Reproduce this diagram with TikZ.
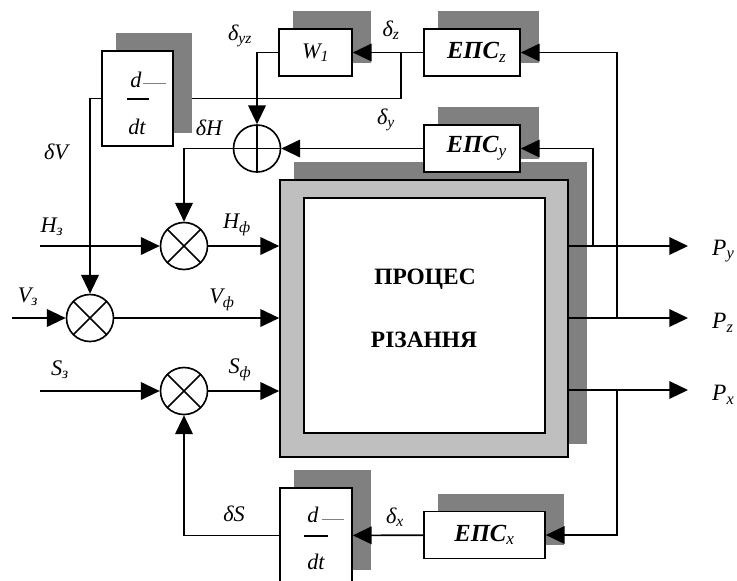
\documentclass[tikz,border=0pt]{standalone}
\usepackage{fontspec}
\setmainfont{Liberation Serif}
\usepackage{tikz}
\usetikzlibrary{arrows.meta, backgrounds}

\begin{document}
\begin{tikzpicture}[x=0.03cm, y=-0.03cm,
  lw/.style={line width=1.4pt},
  blk/.style={draw, lw, fill=white, inner sep=0pt, minimum height=1.41cm},
  mult/.style={circle, draw, lw, fill=white, minimum size=1.41cm, inner sep=0pt,
    path picture={\draw[lw] (path picture bounding box.north west) -- (path picture bounding box.south east)
      (path picture bounding box.north east) -- (path picture bounding box.south west);}},
  summ/.style={circle, draw, lw, fill=white, minimum size=1.41cm, inner sep=0pt,
    path picture={\draw[lw] (path picture bounding box.north) -- (path picture bounding box.south)
      (path picture bounding box.west) -- (path picture bounding box.east);}},
  shd/.style={fill=black!50},
  arr/.style={lw, -{Triangle[length=16pt, width=15pt]}},
  lbl/.style={font=\fontsize{19}{21}\selectfont\itshape, inner sep=0pt},
  frac/.style={font=\fontsize{19}{22}\selectfont\itshape, inner sep=0pt},
  eps/.style={blk, minimum width=2.88cm, font=\fontsize{21}{24}\selectfont\bfseries\itshape},
]
\useasboundingbox (0,0) rectangle (737,580);

% blocks
\node[blk, minimum width=2.13cm, minimum height=2.85cm] (dtop) at (137.5,98.5) {};
\node[blk, minimum width=2.19cm, font=\fontsize{19}{22}\selectfont\itshape] (w1) at (315.5,52.5) {W\textsubscript{1}};
\node[eps] (epsz) at (472,52.5) {\hspace{8pt}ЕПС\textsubscript{\mdseries z}};
\node[eps] (epsy) at (472,148.5) {\hspace{8pt}ЕПС\textsubscript{\mdseries y}};
\node[eps, minimum width=3.63cm] (epsx) at (484.5,535) {ЕПС\textsubscript{\mdseries x}};
\node[blk, minimum width=2.16cm, minimum height=2.85cm] (dbot) at (316,535.5) {};

% cutting process
\node[draw, lw, fill=black!25, minimum width=8.64cm, minimum height=8.31cm] (proc) at (424,318.5) {};
\node[draw, lw, fill=white, minimum width=7.23cm, minimum height=7.05cm] (core) at (424.5,315.5) {};
\node[font=\fontsize{20}{24}\selectfont\bfseries] (t1) at (425,279) {ПРОЦЕС};
\node[font=\fontsize{20}{24}\selectfont\bfseries] (t2) at (424,340) {РІЗАННЯ};

% shadows
\begin{scope}[on background layer]
\foreach \n in {dtop,w1,epsz,epsy,epsx,dbot,proc}
  \fill[shd] ([shift={(15,-17)}]\n.north west) rectangle ([shift={(18,-14)}]\n.south east);
\end{scope}

% d/dt
\node[frac] (dtopd) at (136,80) {d};
\node[frac] (dtopt) at (137,127) {dt};
\draw[lw] (127,99) -- (149,99);
\draw[gray, line width=0.8pt] (143,83) -- (166,83);
\node[frac] (dbotd) at (313,515) {d};
\node[frac] (dbott) at (316,562) {dt};
\draw[lw] (304,536) -- (328,536);
\draw[gray, line width=0.8pt] (322,519) -- (344,519);

% multipliers and summer
\node[mult] (mh) at (184,246) {};
\node[mult] (mv) at (90,318) {};
\node[mult] (ms) at (184,391) {};
\node[summ] (sum) at (257,148.5) {};

\coordinate (hin) at (40,246);
\coordinate (vin) at (12,318);
\coordinate (sin) at (40,391);
\coordinate (py) at (688,246);
\coordinate (pz) at (688,318);
\coordinate (px) at (688,390);
\coordinate (jy) at (593,246);
\coordinate (jz) at (617,318);
\coordinate (jx) at (617,390);
\coordinate (jw) at (401,52.5);

% connectors
\draw[arr] (hin) -- (mh);
\draw[arr] (vin) -- (mv);
\draw[arr] (sin) -- (ms);
\draw[arr] (mh) -- (mh -| proc.west);
\draw[arr] (mv) -- (mv -| proc.west);
\draw[arr] (ms) -- (ms -| proc.west);
\draw[arr] (py -| proc.east) -- (py);
\draw[arr] (pz -| proc.east) -- (pz);
\draw[arr] (px -| proc.east) -- (px);
\draw[arr] (jy) |- (epsy);
\draw[arr] (jz) |- (epsz);
\draw[arr] (jx) |- (epsx);
\draw[arr] (epsz) -- (w1);
\draw[lw] (jw) |- ([shift={(18,0)}]dtop.east);
\draw[arr] (w1) -| (sum);
\draw[arr] (epsy) -- (sum);
\draw[arr] (sum) -| (mh);
\draw[arr] (dtop) -| (mv);
\draw[arr] (epsx) -- (dbot);
\draw[arr] (dbot) -| (ms);

% labels
\node[lbl] (lhz) at (52,227) {H\textsubscript{з}};
\node[lbl] (lvz) at (28,297) {V\textsubscript{з}};
\node[lbl] (lsz) at (60,370) {S\textsubscript{з}};
\node[lbl] (lhf) at (237,225) {H\textsubscript{ф}};
\node[lbl] (lvf) at (222,300) {V\textsubscript{ф}};
\node[lbl] (lsf) at (240,370) {S\textsubscript{ф}};
\node[lbl, anchor=west, font=\fontsize{20}{22}\selectfont\itshape] (lpy) at (712,251) {P\textsubscript{y}};
\node[lbl, anchor=west, font=\fontsize{20}{22}\selectfont\itshape] (lpz) at (712,323) {P\textsubscript{z}};
\node[lbl, anchor=west, font=\fontsize{20}{22}\selectfont\itshape] (lpx) at (712,395) {P\textsubscript{x}};
\node[lbl] (dyz) at (240,36) {δ\textsubscript{yz}};
\node[lbl] (dz) at (391,30) {δ\textsubscript{z}};
\node[lbl] (dy) at (386,120) {δ\textsubscript{y}};
\node[lbl] (dh) at (209,128) {δH};
\node[lbl] (dv) at (56,152) {δV};
\node[lbl] (dx) at (395,517) {δ\textsubscript{x}};
\node[lbl] (ds) at (234,514) {δS};
\end{tikzpicture}
\end{document}
